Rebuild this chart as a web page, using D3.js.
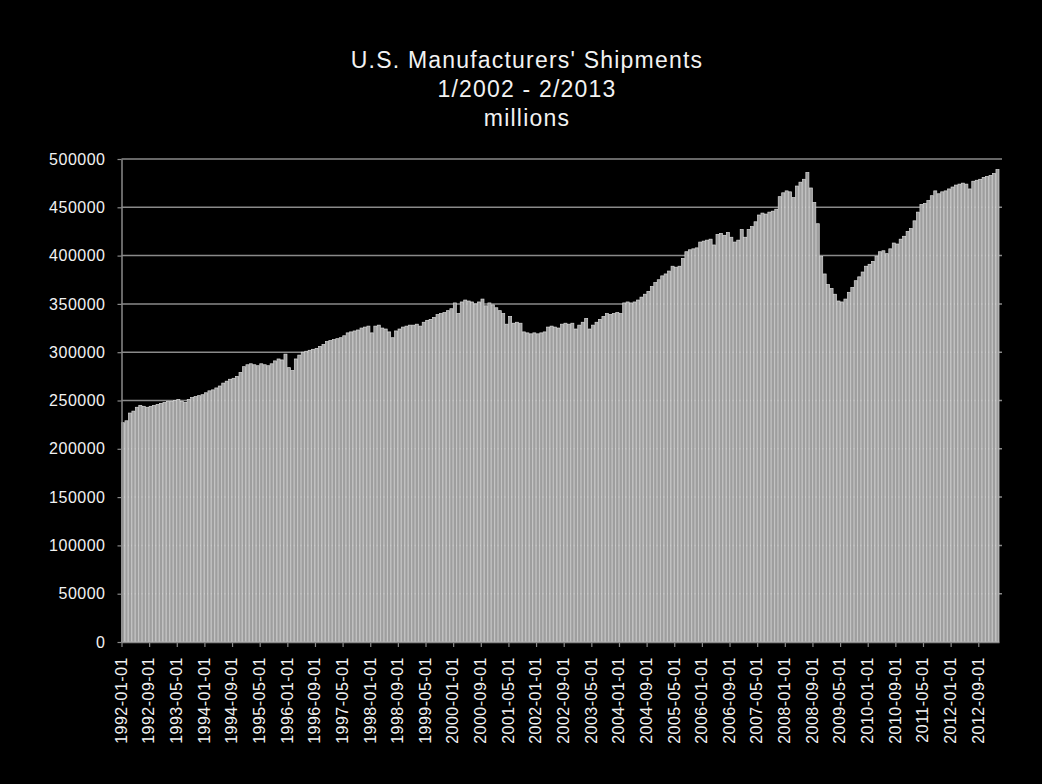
<!DOCTYPE html>
<html>
<head>
<meta charset="utf-8">
<script src="https://cdn.jsdelivr.net/npm/d3@7"></script>
<style>
  html, body { margin: 0; padding: 0; background: #000; }
  svg { display: block; }
</style>
</head>
<body>
<script>
const titleLines = ["U.S. Manufacturers' Shipments", "1/2002 - 2/2013", "millions"];

// monthly values, 1992-01 .. 2013-02 (millions of dollars)
const shipments = [
  227000, 229000, 237000, 239000, 243000, 245000, 244000, 243000, 244000, 245000, 246000, 247000, // 1992
  248000, 249000, 249000, 250000, 251000, 249000, 248000, 251000, 253000, 254000, 255000, 256000, // 1993
  258000, 260000, 261000, 263000, 265000, 268000, 270000, 272000, 273000, 275000, 279000, 285000, // 1994
  287000, 288000, 287000, 286000, 288000, 287000, 286000, 288000, 291000, 293000, 292000, 298000, // 1995
  284000, 281000, 293000, 297000, 300000, 301000, 302000, 303000, 304000, 306000, 308000, 311000, // 1996
  312000, 313000, 314000, 315000, 317000, 320000, 321000, 322000, 323000, 325000, 326000, 327000, // 1997
  320000, 327000, 328000, 325000, 324000, 321000, 315000, 322000, 324000, 326000, 327000, 328000, // 1998
  328000, 329000, 327000, 331000, 333000, 334000, 336000, 339000, 340000, 341000, 343000, 345000, // 1999
  351000, 340000, 352000, 354000, 353000, 352000, 350000, 352000, 355000, 348000, 351000, 349000, // 2000
  346000, 343000, 340000, 329000, 337000, 330000, 331000, 330000, 321000, 320000, 319000, 320000, // 2001
  319000, 320000, 321000, 326000, 327000, 326000, 325000, 329000, 330000, 329000, 330000, 324000, // 2002
  328000, 331000, 335000, 324000, 328000, 331000, 334000, 337000, 340000, 339000, 340000, 341000, // 2003
  340000, 351000, 352000, 351000, 352000, 354000, 357000, 360000, 363000, 368000, 372000, 375000, // 2004
  379000, 381000, 384000, 389000, 388000, 389000, 397000, 404000, 406000, 407000, 408000, 414000, // 2005
  415000, 416000, 417000, 411000, 422000, 423000, 421000, 424000, 419000, 414000, 416000, 427000, // 2006
  419000, 427000, 430000, 435000, 442000, 444000, 443000, 445000, 446000, 448000, 461000, 465000, // 2007
  467000, 466000, 460000, 472000, 476000, 479000, 486000, 470000, 455000, 433000, 399000, 381000, // 2008
  370000, 366000, 360000, 353000, 352000, 355000, 362000, 367000, 374000, 378000, 383000, 389000, // 2009
  391000, 394000, 399000, 404000, 405000, 402000, 407000, 413000, 412000, 417000, 420000, 425000, // 2010
  428000, 436000, 445000, 453000, 454000, 457000, 462000, 467000, 464000, 466000, 467000, 469000, // 2011
  471000, 473000, 474000, 475000, 474000, 469000, 477000, 478000, 479000, 481000, 482000, 483000, // 2012
  485000, 489000                                                                                  // 2013
];

const yTicks = [0, 50000, 100000, 150000, 200000, 250000, 300000, 350000, 400000, 450000, 500000];

// one label every 8 months
const xTickLabels = [
  "1992-01-01", "1992-09-01", "1993-05-01", "1994-01-01", "1994-09-01", "1995-05-01",
  "1996-01-01", "1996-09-01", "1997-05-01", "1998-01-01", "1998-09-01", "1999-05-01",
  "2000-01-01", "2000-09-01", "2001-05-01", "2002-01-01", "2002-09-01", "2003-05-01",
  "2004-01-01", "2004-09-01", "2005-05-01", "2006-01-01", "2006-09-01", "2007-05-01",
  "2008-01-01", "2008-09-01", "2009-05-01", "2010-01-01", "2010-09-01", "2011-05-01",
  "2012-01-01", "2012-09-01"
];
const labelEvery = 8;

const width = 1042;
const height = 784;
const plot = { left: 121.5, right: 999, top: 159, bottom: 642 };
const fontFamily = "'Liberation Sans', Arial, sans-serif";

const svg = d3.select("body")
  .append("svg")
  .attr("width", width)
  .attr("height", height)
  .style("background", "#000");

const n = shipments.length;

const x = d3.scaleBand()
  .domain(d3.range(n))
  .range([plot.left, plot.right])
  .paddingInner(0.12);

// boundary scale for tick marks (category edges)
const xEdge = d3.scaleLinear()
  .domain([0, n])
  .range([plot.left, plot.right]);

const y = d3.scaleLinear()
  .domain([0, 500000])
  .range([plot.bottom, plot.top]);

// title
svg.append("g")
  .selectAll("text")
  .data(titleLines)
  .join("text")
  .attr("x", 527)
  .attr("y", (d, i) => 68 + i * 29)
  .attr("text-anchor", "middle")
  .attr("fill", "#f2f2f2")
  .attr("font-family", fontFamily)
  .attr("font-size", 23)
  .attr("letter-spacing", 1.2)
  .text((d) => d);

// gridlines
svg.append("g")
  .selectAll("line")
  .data(yTicks.filter((d) => d > 0))
  .join("line")
  .attr("x1", plot.left)
  .attr("x2", plot.right + 3)
  .attr("y1", (d) => y(d))
  .attr("y2", (d) => y(d))
  .attr("stroke", "#8a8a8a")
  .attr("stroke-width", 1.5);

// bars
svg.append("g")
  .selectAll("rect")
  .data(shipments)
  .join("rect")
  .attr("x", (d, i) => x(i))
  .attr("y", (d) => y(d))
  .attr("width", x.bandwidth())
  .attr("height", (d) => y(0) - y(d))
  .attr("fill", "#9e9e9e")
  .attr("stroke", "#dadada")
  .attr("stroke-width", 0.7);

// y axis
const yAxis = svg.append("g")
  .attr("transform", `translate(${plot.left},0)`)
  .call(d3.axisLeft(y).tickValues(yTicks).tickSize(4).tickSizeOuter(0).tickPadding(12).tickFormat(d3.format("d")));

// x axis
const xTicks = d3.range(0, n, labelEvery);
const xAxis = svg.append("g")
  .attr("transform", `translate(0,${plot.bottom})`)
  .call(d3.axisBottom(xEdge).tickValues(xTicks).tickSize(5).tickSizeOuter(0)
    .tickFormat((d) => xTickLabels[d / labelEvery]));

xAxis.selectAll("text")
  .attr("text-anchor", "end")
  .attr("transform", "translate(-1,15) rotate(-90)")
  .attr("x", 0)
  .attr("y", 0)
  .attr("dy", "0.36em");

[yAxis, xAxis].forEach((g) => {
  g.select(".domain").attr("stroke", "#8a8a8a").attr("stroke-width", 1.5);
  g.selectAll(".tick line").attr("stroke", "#8a8a8a").attr("stroke-width", 1.2);
  g.selectAll("text")
    .attr("fill", "#f2f2f2")
    .attr("font-family", fontFamily)
    .attr("font-size", 16)
    .attr("letter-spacing", 0.5);
});
</script>
</body>
</html>
